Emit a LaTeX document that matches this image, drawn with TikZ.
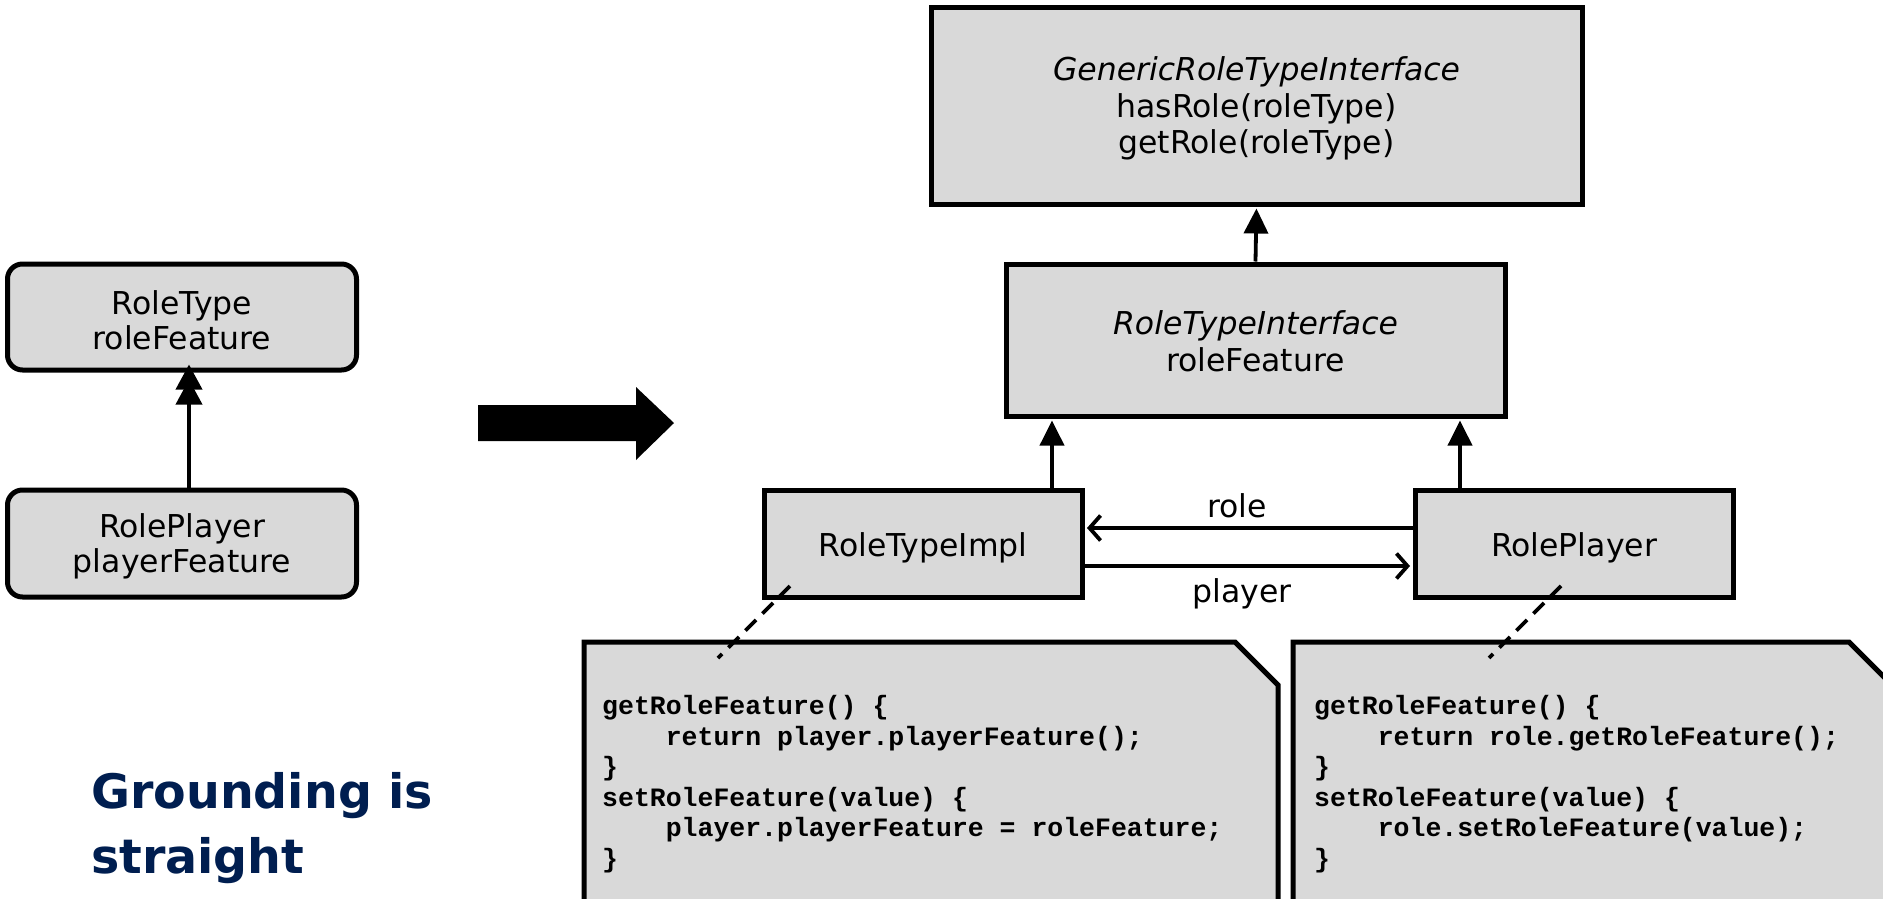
\documentclass[tikz,border=0pt]{standalone}
\usepackage{fontspec}
\setmainfont{DejaVu Sans}
\newfontfamily\codefont{Liberation Mono}
\usetikzlibrary{arrows.meta}
\definecolor{boxgray}{HTML}{D9D9D9}
\definecolor{navy}{RGB}{0,30,80}
\newcommand{\lowtxt}[2]{\raisebox{-#1}[\height][\depth]{#2}}
\begin{document}
\begin{tikzpicture}[x=1pt,y=-1pt,
  umlbox/.style={draw=black,fill=boxgray,line width=5pt,align=center,
    font=\fontsize{31.5}{36.5}\selectfont,inner sep=0pt},
  roundbox/.style={umlbox,rounded corners=15pt,font=\fontsize{31.5}{35}\selectfont},
  inherit/.style={line width=3.8pt,-{Triangle[length=25pt,width=24pt]},shorten >=2pt},
  inherittwo/.style={line width=3.8pt,-{Triangle[length=25pt,width=26pt,sep=-10pt]Triangle[length=25pt,width=26pt,sep=-10pt]},shorten >=2pt},
  assoc/.style={line width=3.8pt,-{Straight Barb[length=11pt,width=25pt]},shorten >=2.5pt},
  note/.style={draw=black,fill=boxgray,line width=5pt},
  codeline/.style={anchor=base west,inner sep=0pt,font=\codefont\bfseries\fontsize{26.5}{30.5}\selectfont},
  lbl/.style={font=\fontsize{31.5}{36}\selectfont,inner sep=0pt},
  noteline/.style={line width=3.8pt,dash pattern=on 15pt off 9pt}
]
\useasboundingbox (0,0) rectangle (1883,898);
\clip (0,0) rectangle (1883,898);

% left part
\node[roundbox,minimum width=349pt,minimum height=106pt] (lRT) at (182,317)
  {\lowtxt{3.5pt}{RoleType}\\\lowtxt{3.5pt}{roleFeature}};
\node[roundbox,minimum width=349pt,minimum height=107pt] (lRP) at (182,543.5)
  {\lowtxt{3pt}{RolePlayer}\\\lowtxt{3pt}{playerFeature}};
\coordinate (lx) at (189,0);
\draw[inherittwo] (lRP.north -| lx) -- (lRT.south -| lx);

% big arrow
\fill[black] (478,405) -- (636,405) -- (636,387) -- (674,423) -- (636,460) -- (636,441) -- (478,441) -- cycle;

% right part
\node[umlbox,minimum width=651pt,minimum height=197pt] (gen) at (1256.5,105.5)
  {\lowtxt{3pt}{\textit{GenericRoleTypeInterface}}\\\lowtxt{3pt}{hasRole(roleType)}\\\lowtxt{3pt}{getRole(roleType)}};
\node[umlbox,minimum width=499pt,minimum height=152pt] (rti) at (1255.5,340)
  {\lowtxt{1pt}{\textit{RoleTypeInterface}}\\\lowtxt{1pt}{roleFeature}};
\node[umlbox,minimum width=318pt,minimum height=107pt] (impl) at (923,543.5) {\lowtxt{4.5pt}{RoleTypeImpl}};
\node[umlbox,minimum width=318pt,minimum height=107pt] (rp) at (1574,543.5) {\lowtxt{4.5pt}{RolePlayer}};

\draw[inherit] (rti.north) -- (gen.south);
\coordinate (ax1) at (1052,0);
\coordinate (ax2) at (1460,0);
\draw[inherit] (impl.north -| ax1) -- (rti.south -| ax1);
\draw[inherit] (rp.north -| ax2) -- (rti.south -| ax2);

\coordinate (ry) at (0,528);
\coordinate (py) at (0,566);
\draw[assoc] (rp.west |- ry) -- (impl.east |- ry);
\draw[assoc] (impl.east |- py) -- (rp.west |- py);
\node[lbl] (rolelbl) at (1237,506) {role};
\node[lbl] (playerlbl) at (1242,594) {player};

% notes
\draw[note] (584,642) -- (1235,642) -- (1278,685) -- (1278,930) -- (584,930) -- cycle;
\draw[note] (1293,642) -- (1849,642) -- (1892,685) -- (1892,930) -- (1293,930) -- cycle;

\coordinate (d1s) at (790,586);
\coordinate (d1e) at (718,658);
\coordinate (d2s) at (1561,586);
\coordinate (d2e) at (1489,658);
\draw[noteline] (d1s) -- (d1e);
\draw[noteline] (d2s) -- (d2e);

\node[codeline] (a1) at (602,714.5) {getRoleFeature() \{};
\node[codeline] (a2) at (602,745) {\phantom{xxxx}return player.playerFeature();};
\node[codeline] (a3) at (602,775.5) {\}};
\node[codeline] (a4) at (602,806) {setRoleFeature(value) \{};
\node[codeline] (a5) at (602,836.5) {\phantom{xxxx}player.playerFeature = roleFeature;};
\node[codeline] (a6) at (602,867) {\}};

\node[codeline] (b1) at (1314,714.5) {getRoleFeature() \{};
\node[codeline] (b2) at (1314,745) {\phantom{xxxx}return role.getRoleFeature();};
\node[codeline] (b3) at (1314,775.5) {\}};
\node[codeline] (b4) at (1314,806) {setRoleFeature(value) \{};
\node[codeline] (b5) at (1314,836.5) {\phantom{xxxx}role.setRoleFeature(value);};
\node[codeline] (b6) at (1314,867) {\}};

% caption text
\node[anchor=base west,inner sep=0pt,text=navy,font=\fontsize{47.5}{60}\selectfont\bfseries] (g1) at (91,808) {Grounding is};
\node[anchor=base west,inner sep=0pt,text=navy,font=\fontsize{47.5}{60}\selectfont\bfseries] (g2) at (91,873) {straight};
\end{tikzpicture}
\end{document}
